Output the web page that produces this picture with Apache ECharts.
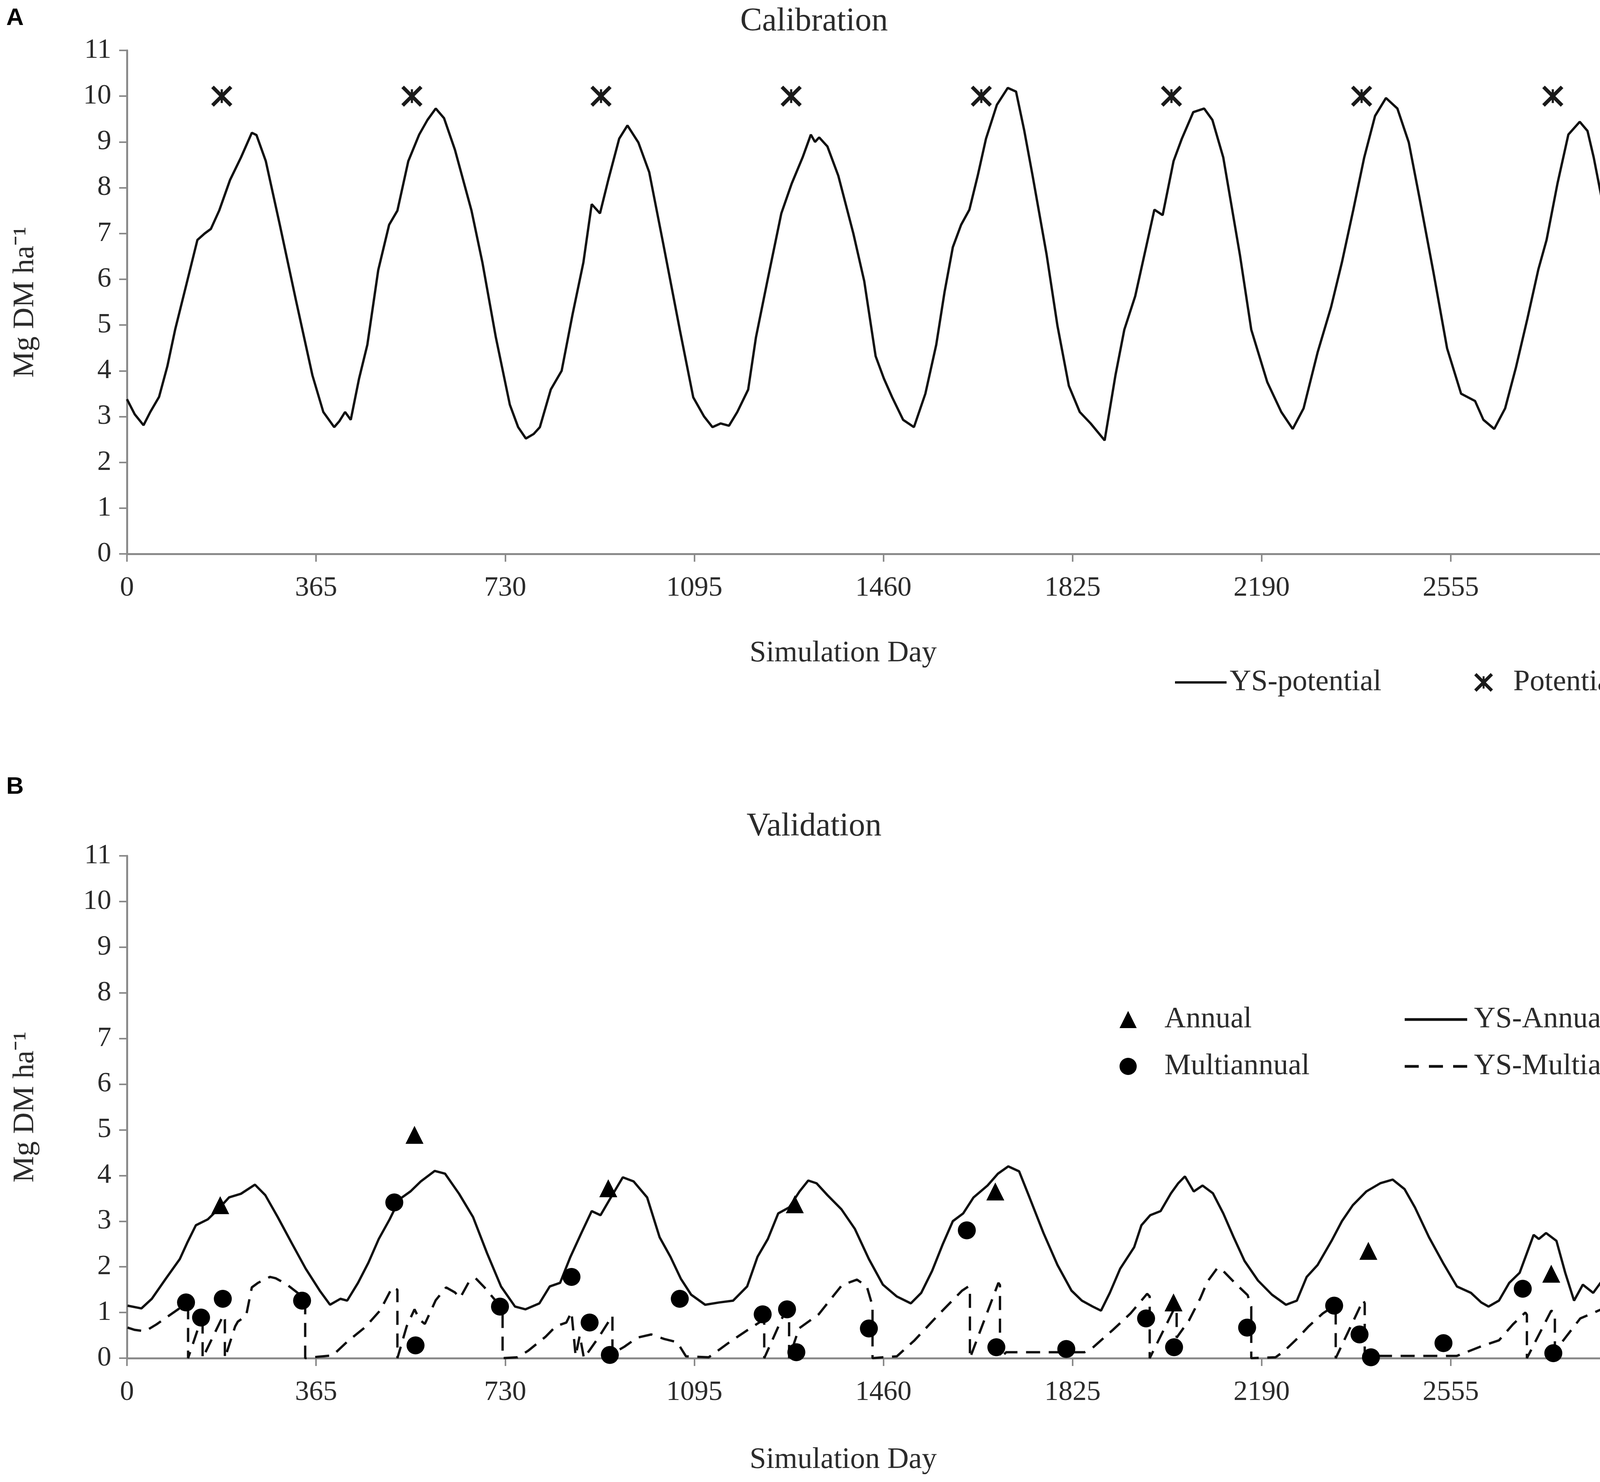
<!DOCTYPE html>
<html>
<head>
<meta charset="utf-8">
<script src="https://cdn.jsdelivr.net/npm/echarts@6/dist/echarts.min.js"></script>
<style>
html,body{margin:0;padding:0;background:#fff;}
#chart{width:4317px;height:3794px;}
</style>
</head>
<body>
<div id="chart"></div>
<script>
// ---------- DATA ----------
const xTicks = [0, 365, 730, 1095, 1460, 1825, 2190, 2555, 2920];
const yTicks = [0, 1, 2, 3, 4, 5, 6, 7, 8, 9, 10, 11];

// Panel A: simulated potential yield [day, Mg DM/ha]
const ysPotential = [
[0,3.38],[15,3.05],[32,2.81],[45,3.1],[62,3.43],[78,4.1],[93,4.9],[115,5.9],[136,6.86],[150,7.0],[162,7.1],[178,7.5],
[199,8.17],[220,8.66],[241,9.2],[250,9.15],[268,8.58],[295,7.19],[326,5.55],[358,3.9],[379,3.1],[400,2.77],[410,2.9],
[421,3.1],[432,2.93],[448,3.83],[464,4.57],[485,6.2],[506,7.19],[522,7.5],[543,8.58],[564,9.16],[580,9.48],[596,9.73],
[612,9.52],[633,8.83],[665,7.5],[686,6.37],[712,4.73],[739,3.26],[755,2.77],[770,2.52],[785,2.62],[797,2.77],[818,3.59],
[839,4.0],[860,5.23],[881,6.37],[897,7.64],[913,7.44],[929,8.17],[950,9.07],[966,9.36],[987,8.99],[1008,8.34],[1035,6.78],
[1067,4.9],[1093,3.42],[1114,3.0],[1130,2.77],[1146,2.85],[1162,2.8],[1178,3.1],[1199,3.59],[1214,4.73],[1236,5.96],
[1263,7.44],[1283,8.09],[1304,8.66],[1320,9.16],[1328,9.0],[1336,9.1],[1352,8.9],[1373,8.26],[1402,7.0],[1423,5.96],
[1445,4.32],[1461,3.83],[1477,3.42],[1498,2.93],[1519,2.77],[1541,3.5],[1562,4.57],[1578,5.72],[1594,6.7],[1610,7.19],
[1626,7.52],[1642,8.26],[1658,9.07],[1679,9.81],[1700,10.18],[1716,10.1],[1732,9.24],[1748,8.26],[1775,6.54],[1796,4.98],
[1818,3.67],[1839,3.1],[1860,2.85],[1887,2.48],[1908,3.91],[1925,4.9],[1946,5.63],[1967,6.7],[1983,7.52],[1999,7.4],
[2020,8.58],[2036,9.07],[2058,9.65],[2079,9.73],[2095,9.48],[2116,8.66],[2148,6.54],[2170,4.9],[2201,3.75],[2228,3.1],
[2250,2.73],[2271,3.18],[2298,4.4],[2324,5.39],[2345,6.37],[2367,7.52],[2388,8.66],[2409,9.57],[2430,9.96],[2452,9.73],
[2474,8.99],[2495,7.76],[2522,6.13],[2548,4.49],[2575,3.5],[2602,3.34],[2618,2.93],[2639,2.73],[2660,3.18],[2681,4.08],
[2703,5.14],[2724,6.21],[2740,6.86],[2761,8.09],[2782,9.16],[2804,9.44],[2819,9.24],[2831,8.66],[2852,7.44],[2873,6.37],
[2903,4.65]
];
// Panel A: observed potential
const potentialObs = [[183,10],[550,10],[915,10],[1282,10],[1649,10],[2016,10],[2383,10],[2752,10]];

// Panel B: simulated annual
const ysAnnual = [
[1,1.15],[28,1.09],[48,1.3],[75,1.74],[102,2.17],[116,2.52],[133,2.91],[156,3.04],[176,3.26],[197,3.52],[220,3.6],
[247,3.8],[267,3.57],[291,3.09],[318,2.52],[345,1.96],[372,1.48],[392,1.17],[412,1.3],[425,1.26],[446,1.65],[466,2.09],
[486,2.61],[507,3.04],[526,3.48],[547,3.65],[567,3.87],[594,4.1],[614,4.04],[641,3.6],[668,3.09],[695,2.3],[722,1.57],
[749,1.13],[769,1.07],[796,1.2],[816,1.57],[836,1.65],[856,2.22],[877,2.74],[897,3.22],[914,3.13],[934,3.52],[957,3.96],
[978,3.87],[1004,3.52],[1028,2.65],[1049,2.22],[1069,1.74],[1089,1.39],[1116,1.17],[1143,1.22],[1170,1.26],[1197,1.57],
[1217,2.22],[1237,2.61],[1257,3.17],[1278,3.3],[1298,3.65],[1315,3.89],[1331,3.83],[1352,3.57],[1379,3.26],[1405,2.83],
[1432,2.17],[1459,1.61],[1486,1.35],[1513,1.2],[1533,1.43],[1554,1.91],[1574,2.48],[1594,3.0],[1614,3.17],[1634,3.52],
[1661,3.78],[1681,4.04],[1701,4.2],[1722,4.09],[1742,3.52],[1769,2.74],[1796,2.04],[1823,1.48],[1843,1.26],[1864,1.13],
[1880,1.04],[1897,1.43],[1917,1.96],[1944,2.43],[1958,2.91],[1975,3.13],[1995,3.22],[2015,3.61],[2029,3.83],[2042,3.98],
[2059,3.65],[2076,3.78],[2096,3.61],[2116,3.17],[2136,2.65],[2157,2.13],[2183,1.7],[2210,1.39],[2237,1.17],[2258,1.26],
[2277,1.78],[2298,2.04],[2325,2.57],[2345,3.0],[2366,3.35],[2392,3.65],[2419,3.83],[2443,3.91],[2466,3.7],[2486,3.3],
[2513,2.65],[2540,2.09],[2567,1.57],[2594,1.43],[2614,1.22],[2628,1.13],[2648,1.26],[2668,1.65],[2688,1.87],[2702,2.3],
[2715,2.7],[2725,2.61],[2739,2.74],[2759,2.57],[2776,1.87],[2793,1.26],[2810,1.61],[2830,1.43],[2850,1.74],[2870,1.61],
[2890,1.48]
];
// Panel B: simulated multiannual (drops = harvests)
const ysMultiannual = [
[1,0.67],[15,0.62],[35,0.59],[57,0.74],[100,1.08],[118,1.15],[118,0],[140,0.74],[146,0.8],[146,0],[186,0.94],[189,0.85],
[189,0],[209,0.7],[214,0.8],[230,0.93],[241,1.55],[253,1.65],[276,1.78],[287,1.75],[308,1.62],[334,1.39],[344,1.3],[344,0],
[368,0.03],[397,0.06],[426,0.37],[460,0.68],[489,1.05],[512,1.55],[522,1.5],[522,0],[540,0.7],[555,1.07],[565,0.84],
[575,0.75],[596,1.27],[616,1.55],[633,1.44],[643,1.32],[660,1.67],[673,1.75],[690,1.55],[707,1.32],[720,1.15],[725,1.0],
[725,0],[754,0.02],[774,0.16],[808,0.47],[828,0.7],[848,0.78],[858,1.01],[866,0.05],[874,0.5],[882,0],[910,0.45],[937,0.93],
[937,0.1],[960,0.25],[985,0.45],[1012,0.52],[1037,0.42],[1062,0.35],[1079,0.04],[1123,0.02],[1163,0.35],[1197,0.61],
[1227,0.83],[1230,0.8],[1230,0],[1271,1.04],[1278,1.0],[1278,0],[1297,0.65],[1335,0.96],[1380,1.6],[1409,1.72],[1428,1.57],
[1437,1.22],[1439,1.2],[1439,0],[1459,0.02],[1486,0.04],[1520,0.39],[1567,0.96],[1612,1.48],[1624,1.57],[1627,1.55],
[1627,0],[1682,1.65],[1685,1.6],[1685,0],[1697,0.13],[1848,0.13],[1863,0.22],[1903,0.62],[1937,0.98],[1969,1.41],
[1974,1.35],[1974,0],[2022,1.1],[2026,1.05],[2026,0.45],[2050,0.83],[2072,1.32],[2085,1.67],[2105,1.98],[2115,1.92],
[2139,1.64],[2163,1.38],[2170,1.13],[2170,0],[2217,0.02],[2234,0.16],[2257,0.41],[2281,0.7],[2308,0.98],[2328,1.13],
[2333,1.1],[2333,0],[2386,1.27],[2389,1.2],[2389,0.05],[2567,0.05],[2614,0.26],[2648,0.39],[2675,0.74],[2699,1.0],
[2702,0.95],[2702,0],[2749,1.04],[2756,1.0],[2756,0.15],[2775,0.43],[2805,0.87],[2850,1.09],[2897,0.87]
];
// Panel B: observed
const annualObs = [[180,3.35],[555,4.89],[929,3.72],[1289,3.37],[1676,3.65],[2020,1.22],[2396,2.35],[2749,1.85]];
const multiannualObs = [
[114,1.22],[143,0.89],[185,1.3],[338,1.26],[516,3.41],[557,0.28],[720,1.13],[858,1.78],[893,0.78],[932,0.07],
[1067,1.3],[1227,0.96],[1274,1.07],[1292,0.13],[1432,0.65],[1621,2.8],[1678,0.24],[1813,0.2],[1967,0.87],[2021,0.24],
[2162,0.67],[2330,1.15],[2379,0.52],[2401,0.02],[2541,0.33],[2694,1.52],[2753,0.11],[2897,0.63]
];

// ---------- STYLE ----------
const SERIF = 'Liberation Serif, Times New Roman, serif';
const TXT = '#2b2b2b';
const AX = '#8a8a8a';
const starPath = 'path://M1,13 L13,1 L99,87 L87,99 Z M87,1 L99,13 L13,99 L1,87 Z M45,18 L55,18 L55,82 L45,82 Z';
const solidIcon = 'path://M0,0 L160,0 L160,7 L0,7 Z';
const dashIcon = 'path://M0,0 L36,0 L36,7 L0,7 Z M62,0 L98,0 L98,7 L62,7 Z M124,0 L160,0 L160,7 L124,7 Z';

function xAxisCfg(gridIndex, gap) {
  return {
    type: 'value', gridIndex, min: 0, max: 2920, interval: 365,
    name: 'Simulation Day', nameLocation: 'middle', nameGap: gap,
    nameTextStyle: { fontFamily: SERIF, fontSize: 76, color: TXT, padding: [0, 206, 0, 0] },
    axisLine: { show: true, onZero: false, lineStyle: { color: AX, width: 5 } },
    axisTick: { show: true, length: 20, lineStyle: { color: AX, width: 4 } },
    axisLabel: { fontFamily: SERIF, fontSize: 72, color: TXT, margin: 52,
      formatter: v => xTicks.indexOf(v) >= 0 ? String(v) : '' },
    splitLine: { show: false }
  };
}
function yAxisCfg(gridIndex) {
  return {
    type: 'value', gridIndex, min: 0, max: 11, interval: 1,
    name: 'Mg DM ha\u207B\u00B9', nameLocation: 'middle', nameGap: 222,
    nameTextStyle: { fontFamily: SERIF, fontSize: 76, color: TXT },
    axisLine: { show: true, lineStyle: { color: AX, width: 5 } },
    axisTick: { show: true, length: 20, lineStyle: { color: AX, width: 4 } },
    axisLabel: { fontFamily: SERIF, fontSize: 72, color: TXT, margin: 40,
      formatter: v => yTicks.indexOf(v) >= 0 ? String(v) : '' },
    splitLine: { show: false }
  };
}
function legendCfg(name, left, top, w, h, padLeft, icon) {
  const item = icon ? { name, icon } : { name };
  return {
    data: [item], left, top, padding: 0, itemWidth: w, itemHeight: h, selectedMode: false,
    textStyle: { fontFamily: SERIF, fontSize: 76, color: TXT, lineHeight: 80, padding: [0, 0, 0, padLeft] }
  };
}

const chart = echarts.init(document.getElementById('chart'), null, { renderer: 'canvas' });
chart.setOption({
  animation: false,
  backgroundColor: '#ffffff',
  title: [
    { text: 'A', left: 16, top: 16, padding: 0, textStyle: { fontFamily: 'Liberation Sans, Arial, sans-serif', fontWeight: 'bold', fontSize: 62, color: '#000' } },
    { text: 'Calibration', left: 2084, top: 14, padding: 0, textAlign: 'center', textStyle: { fontFamily: SERIF, fontWeight: 'normal', fontSize: 84, color: TXT } },
    { text: 'B', left: 16, top: 1984, padding: 0, textStyle: { fontFamily: 'Liberation Sans, Arial, sans-serif', fontWeight: 'bold', fontSize: 62, color: '#000' } },
    { text: 'Validation', left: 2084, top: 2075, padding: 0, textAlign: 'center', textStyle: { fontFamily: SERIF, fontWeight: 'normal', fontSize: 84, color: TXT } }
  ],
  grid: [
    { left: 325, top: 129, width: 3873, height: 1289, containLabel: false },
    { left: 325, top: 2191, width: 3873, height: 1286, containLabel: false }
  ],
  xAxis: [xAxisCfg(0, 217), xAxisCfg(1, 223)],
  yAxis: [yAxisCfg(0), yAxisCfg(1)],
  legend: [
    legendCfg('YS-potential', 3008, 1707, 132, 6, 3, solidIcon),
    legendCfg('Potential', 3774, 1707, 48, 48, 47),
    legendCfg('Annual', 2866, 2570, 44, 44, 66),
    legendCfg('Multiannual', 2866, 2690, 44, 44, 66),
    legendCfg('YS-Annual', 3596, 2570, 165, 7, 10, solidIcon),
    legendCfg('YS-Multiannual', 3596, 2690, 165, 7, 10, dashIcon)
  ],
  series: [
    { name: 'YS-potential', type: 'line', xAxisIndex: 0, yAxisIndex: 0, data: ysPotential,
      symbol: 'none', showSymbol: false, lineStyle: { color: '#111', width: 6 }, itemStyle: { color: '#111' }, z: 3 },
    { name: 'Potential', type: 'scatter', xAxisIndex: 0, yAxisIndex: 0, data: potentialObs,
      symbol: starPath, symbolSize: 54, itemStyle: { color: '#1a1a1a', opacity: 1 }, z: 5 },
    { name: 'YS-Annual', type: 'line', xAxisIndex: 1, yAxisIndex: 1, data: ysAnnual,
      symbol: 'none', showSymbol: false, lineStyle: { color: '#111', width: 6 }, itemStyle: { color: '#111' }, z: 3 },
    { name: 'YS-Multiannual', type: 'line', xAxisIndex: 1, yAxisIndex: 1, data: ysMultiannual,
      symbol: 'none', showSymbol: false, lineStyle: { color: '#111', width: 6, type: [36, 22] }, itemStyle: { color: '#111' }, z: 3 },
    { name: 'Annual', type: 'scatter', xAxisIndex: 1, yAxisIndex: 1, data: annualObs,
      symbol: 'triangle', symbolSize: 46, itemStyle: { color: '#000', opacity: 1 }, z: 5 },
    { name: 'Multiannual', type: 'scatter', xAxisIndex: 1, yAxisIndex: 1, data: multiannualObs,
      symbol: 'circle', symbolSize: 46, itemStyle: { color: '#000', opacity: 1 }, z: 5 }
  ]
});
</script>
</body>
</html>
